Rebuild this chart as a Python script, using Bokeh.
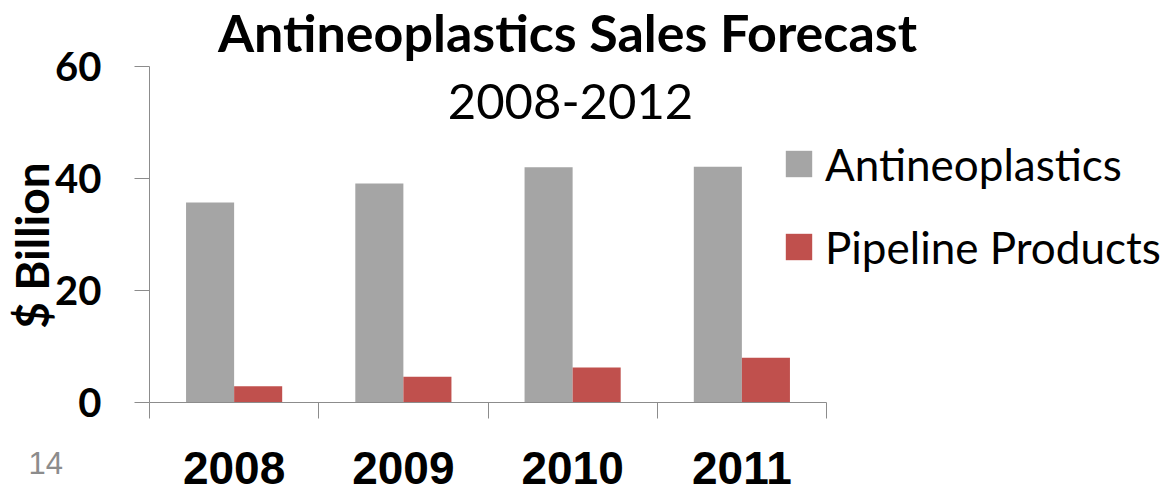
import math
from bokeh.plotting import figure
from bokeh.models import (Range1d, LinearAxis, FixedTicker, Label, Legend, LegendItem,
                          ColumnDataSource)
from bokeh.embed import file_html
from bokeh.resources import INLINE

# ---- data ----
years = ["2008", "2009", "2010", "2011"]
antineoplastics = [35.7, 39.1, 42.0, 42.1]
pipeline_products = [2.9, 4.6, 6.25, 8.0]
y_ticks = [0, 20, 40, 60]
y_max = 60
title_text = "Antineoplastics Sales Forecast"
subtitle_text = "2008-2012"
y_label = "$ Billion"
page_number = "14"

GRAY = "#A5A5A5"
RED = "#C0504D"
AXIS = "#8C8C8C"

W, H = 1167, 495
# plot-area placement in pixels (layout only)
L, R, T, B = 149, 826, 66, 402

n = len(years)
px_x = (R - L) / n
px_y = (B - T) / y_max
x_range = Range1d(-L / px_x, n + (W - R) / px_x)
y_range = Range1d(-(H - B) / px_y, y_max + T / px_y)

def dx(px):
    return (px - L) / px_x

def dy(py):
    return (B - py) / px_y

centers = [i + 0.5 for i in range(n)]
bar_w = 0.284
src = ColumnDataSource(dict(
    x_a=[c - bar_w / 2 for c in centers],
    x_p=[c + bar_w / 2 for c in centers],
    a=antineoplastics,
    p=pipeline_products,
))

p = figure(width=W, height=H, output_backend="svg", toolbar_location=None,
           x_range=x_range, y_range=y_range,
           x_axis_type=None, y_axis_type=None, min_border=0)
p.outline_line_color = None
p.xgrid.visible = False
p.ygrid.visible = False
p.background_fill_color = "white"
p.border_fill_color = "white"

r1 = p.vbar(x="x_a", top="a", width=bar_w, source=src, fill_color=GRAY, line_color=None)
r2 = p.vbar(x="x_p", top="p", width=bar_w, source=src, fill_color=RED, line_color=None)

# x axis: category boundaries as (minor) ticks, labels at centers
xaxis = LinearAxis(ticker=FixedTicker(ticks=centers, minor_ticks=list(range(n + 1))),
                   major_label_overrides={c: y for c, y in zip(centers, years)},
                   fixed_location=0, bounds=(0, n))
xaxis.axis_line_color = AXIS
xaxis.major_tick_out = 0
xaxis.major_tick_in = 0
xaxis.minor_tick_out = 16
xaxis.minor_tick_in = 0
xaxis.minor_tick_line_color = AXIS
xaxis.major_label_text_font = "Liberation Sans"
xaxis.major_label_text_font_style = "bold"
xaxis.major_label_text_font_size = "46px"
xaxis.major_label_text_color = "black"
xaxis.major_label_standoff = 33
p.add_layout(xaxis, "below")

yaxis = LinearAxis(ticker=FixedTicker(ticks=y_ticks), fixed_location=0, bounds=(0, y_max))
yaxis.axis_line_color = AXIS
yaxis.major_tick_line_color = AXIS
yaxis.major_tick_out = 15
yaxis.major_tick_in = 0
yaxis.minor_tick_line_color = None
yaxis.major_label_text_font = "Lato"
yaxis.major_label_text_font_style = "bold"
yaxis.major_label_text_font_size = "40px"
yaxis.major_label_text_color = "black"
yaxis.major_label_standoff = 33
p.add_layout(yaxis, "left")

p.add_layout(Label(x=dx(567), y=dy(31), text=title_text, text_align="center",
                   text_baseline="alphabetic", text_font="Lato", text_font_style="bold",
                   text_font_size="52px", text_color="black"))
p.add_layout(Label(x=dx(570), y=dy(101), text=subtitle_text, text_align="center",
                   text_baseline="alphabetic", text_font="Lato",
                   text_font_size="49px", text_color="black"))
p.add_layout(Label(x=dx(31), y=dy(245), text=y_label, text_align="center",
                   text_baseline="middle", angle=math.pi / 2, text_font="Lato",
                   text_font_style="bold", text_font_size="46px", text_color="black"))
p.add_layout(Label(x=dx(28), y=dy(462), text=page_number, text_align="left",
                   text_baseline="alphabetic", text_font="Liberation Sans",
                   text_font_size="31px", text_color="#8C8C8C"))

legend = Legend(items=[LegendItem(label="Antineoplastics", renderers=[r1]),
                       LegendItem(label="Pipeline Products", renderers=[r2])],
                location=(782, H - 288))
legend.border_line_color = None
legend.background_fill_alpha = 0
legend.padding = 0
legend.margin = 0
legend.spacing = 0
legend.label_height = 83
legend.glyph_width = 33
legend.glyph_height = 33
legend.label_standoff = 10
legend.label_text_font = "Lato"
legend.label_text_font_size = "44px"
legend.label_text_color = "black"
legend.label_text_baseline = "middle"
p.add_layout(legend, "center")

open("out.html", "w").write(file_html(p, INLINE))
